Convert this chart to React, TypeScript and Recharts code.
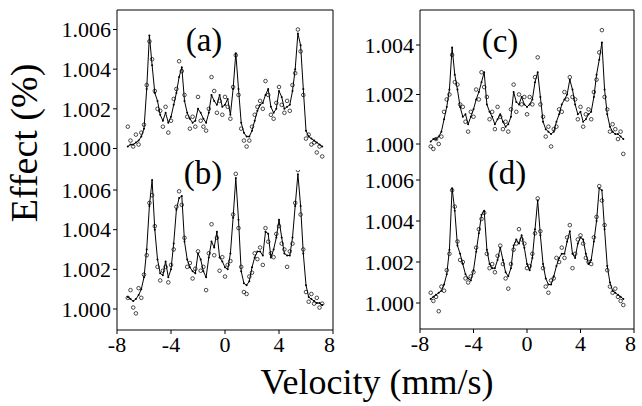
import { ComposedChart, Line, Scatter, XAxis, YAxis } from "recharts";

// channel velocities (mm/s)
const velocity = [
  -7.2, -7.0, -6.8, -6.6, -6.4, -6.2, -6.0, -5.8, -5.6, -5.4,
  -5.2, -5.0, -4.8, -4.6, -4.4, -4.2, -4.0, -3.8, -3.6, -3.4,
  -3.2, -3.0, -2.8, -2.6, -2.4, -2.2, -2.0, -1.8, -1.6, -1.4,
  -1.2, -1.0, -0.8, -0.6, -0.4, -0.2, 0.0, 0.2, 0.4, 0.6,
  0.8, 1.0, 1.2, 1.4, 1.6, 1.8, 2.0, 2.2, 2.4, 2.6,
  2.8, 3.0, 3.2, 3.4, 3.6, 3.8, 4.0, 4.2, 4.4, 4.6,
  4.8, 5.0, 5.2, 5.4, 5.6, 5.8, 6.0, 6.2, 6.4, 6.6,
  6.8, 7.0, 7.2,
];

// (a)
const fitA = [
  1.0001, 1.0002, 1.0002, 1.0003, 1.0004, 1.0006, 1.001, 1.003, 1.0057, 1.0042,
  1.0028, 1.0024, 1.0017, 1.0014, 1.0018, 1.0013, 1.0016, 1.0022, 1.0028, 1.0036,
  1.0041, 1.0024, 1.0018, 1.0015, 1.0013, 1.0014, 1.002, 1.0018, 1.0015, 1.0013,
  1.0018, 1.0027, 1.0024, 1.0022, 1.0027, 1.0021, 1.0022, 1.0025, 1.0017, 1.003,
  1.0048, 1.003, 1.0013, 1.0008, 1.0006, 1.0006, 1.0009, 1.0014, 1.0019, 1.0022,
  1.0023, 1.0027, 1.003, 1.0021, 1.0018, 1.002, 1.0029, 1.0026, 1.002, 1.0021,
  1.0022, 1.0029, 1.004, 1.0058, 1.0052, 1.003, 1.0009, 1.0006, 1.0005, 1.0004,
  1.0003, 1.0002, 1.0001,
];
const obsA = [
  1.0011, 1.0004, 1.0001, 1.0007, 1.0002, 1.0008, 1.0012, 1.0032, 1.0054, 1.0045,
  1.0029, 1.002, 1.0019, 1.0011, 1.0021, 1.0008, 1.0014, 1.0025, 1.003, 1.0044,
  1.0039, 1.0027, 1.0016, 1.001, 1.0016, 1.0011, 1.0026, 1.0014, 1.0011, 1.0009,
  1.002, 1.0036, 1.0029, 1.0018, 1.0024, 1.0017, 1.0026, 1.0021, 1.0015, 1.0031,
  1.0047, 1.0027, 1.001, 1.0004, 1.0001, 1.0004, 1.0011, 1.0017, 1.0021, 1.0024,
  1.002, 1.0034, 1.0027, 1.0017, 1.0015, 1.0023, 1.0031, 1.0022, 1.0018, 1.0024,
  1.0019, 1.0032, 1.0038, 1.006, 1.0049, 1.0027, 1.0005, 1.0007, 1.0002, 1.0003,
  0.9998, 1.0001, 0.9996,
];

// (b)
const fitB = [
  1.0006, 1.0005, 1.0004, 1.0005, 1.0007, 1.001, 1.0016, 1.003, 1.0052, 1.0065,
  1.004, 1.0025, 1.0018, 1.0017, 1.0024, 1.0016, 1.002, 1.0033, 1.005, 1.0056,
  1.0057, 1.0034, 1.0025, 1.0021, 1.0019, 1.0018, 1.0028, 1.0025, 1.0019, 1.0016,
  1.0026, 1.0034, 1.0031, 1.0039, 1.0026, 1.0024, 1.0021, 1.002, 1.0028, 1.0046,
  1.0066, 1.0045, 1.0019, 1.0013, 1.0012, 1.0014, 1.0021, 1.0026, 1.0029, 1.0029,
  1.0027, 1.0039, 1.0038, 1.0026, 1.003, 1.0036, 1.0045, 1.0036, 1.0028, 1.0027,
  1.0027, 1.0036, 1.0052, 1.0068, 1.0052, 1.0028, 1.0012, 1.0006, 1.0005, 1.0004,
  1.0003, 1.0003, 1.0002,
];
const obsB = [
  1.0006, 1.001, 1.0001, 0.9998, 1.0011, 1.0006, 1.0018, 1.0028, 1.0055, 1.0059,
  1.0043, 1.0022, 1.0015, 1.002, 1.0022, 1.0014, 1.0023, 1.0031, 1.0053, 1.0061,
  1.0054, 1.0037, 1.0022, 1.0024, 1.0016, 1.0021, 1.003, 1.002, 1.0022, 1.001,
  1.0029, 1.0044, 1.0028, 1.0037, 1.002, 1.0027, 1.0017, 1.0023, 1.0025, 1.0049,
  1.007, 1.0042, 1.0022, 1.0009, 1.0008, 1.0017, 1.0019, 1.0029, 1.0026, 1.0032,
  1.0023, 1.0042, 1.0035, 1.0029, 1.0027, 1.0039, 1.0043, 1.0034, 1.0031, 1.0022,
  1.003, 1.0034, 1.0055, 1.0072, 1.0049, 1.0031, 1.0009, 1.0004, 1.0008, 1.0003,
  1.0006, 1.0001, 1.0003,
];

// (c)
const fitC = [
  1.0001, 1.0002, 1.0002, 1.0003, 1.0005, 1.001, 1.0015, 1.0022, 1.0039, 1.0028,
  1.0022, 1.0015, 1.0011, 1.0012, 1.0008, 1.0011, 1.0014, 1.0018, 1.0021, 1.0025,
  1.0029, 1.0016, 1.0013, 1.0011, 1.0008, 1.001, 1.0012, 1.0009, 1.0007, 1.0008,
  1.0011, 1.0021, 1.0017, 1.0016, 1.0019, 1.0016, 1.0015, 1.0016, 1.0018, 1.0025,
  1.0029, 1.0019, 1.0009, 1.0006, 1.0005, 1.0004, 1.0005, 1.0009, 1.0012, 1.0016,
  1.0018, 1.002, 1.0026, 1.0022, 1.0016, 1.0012, 1.0013, 1.0009, 1.001, 1.0012,
  1.0013, 1.0019, 1.0028, 1.0034, 1.0041, 1.0022, 1.0012, 1.0007, 1.0005, 1.0004,
  1.0004, 1.0003, 1.0002,
];
const obsC = [
  0.9999, 0.9998, 1.0002, 1.0, 1.0003, 1.0013, 1.0018, 1.002, 1.0036, 1.0025,
  1.0024, 1.0016, 1.0015, 1.0009, 1.0005, 1.0013, 1.0011, 1.0022, 1.0018, 1.0029,
  1.0023, 1.0019, 1.001, 1.0013, 1.0006, 1.0015, 1.0011, 1.0006, 1.0009, 1.0005,
  1.0014, 1.0024, 1.0013, 1.002, 1.0016, 1.0019, 1.0012, 1.0019, 1.0016, 1.0027,
  1.0035, 1.0016, 1.0011, 1.0003, 1.0007, 0.9999, 1.0006, 1.0007, 1.0014, 1.0013,
  1.0021, 1.0018, 1.0027, 1.0019, 1.0018, 1.001, 1.0015, 1.0007, 1.0012, 1.0014,
  1.001, 1.0021, 1.0026, 1.0037, 1.0046, 1.0019, 1.0014, 1.0005, 1.0008, 1.0006,
  1.0002, 1.0005, 0.9996,
];

// (d)
const fitD = [
  1.0002, 1.0003, 1.0004, 1.0005, 1.0006, 1.0009, 1.0014, 1.0026, 1.0056, 1.0045,
  1.0028, 1.0024, 1.0019, 1.0014, 1.0012, 1.0011, 1.0016, 1.0025, 1.0034, 1.0043,
  1.0045, 1.0026, 1.0019, 1.0017, 1.0017, 1.0021, 1.0027, 1.0021, 1.0015, 1.0013,
  1.0017, 1.0028, 1.0031, 1.0029, 1.0033, 1.0027, 1.0019, 1.0016, 1.0022, 1.0036,
  1.005, 1.0033, 1.0019, 1.0012, 1.0009, 1.0009, 1.0013, 1.0018, 1.0022, 1.0024,
  1.0024, 1.003, 1.0035, 1.0024, 1.0022, 1.0029, 1.0032, 1.0031, 1.0024, 1.0019,
  1.0021, 1.003, 1.004, 1.0056, 1.0055, 1.0036, 1.0018, 1.001, 1.0006, 1.0005,
  1.0004, 1.0003, 1.0002,
];
const obsD = [
  1.0005, 1.0001, 1.0003, 0.9996, 1.0008, 1.0006, 1.0016, 1.0024, 1.0055, 1.0047,
  1.003, 1.0021, 1.002, 1.0012, 1.001, 1.0013, 1.0015, 1.0027, 1.0036, 1.0041,
  1.0044, 1.0024, 1.0017, 1.0019, 1.0015, 1.0023, 1.0028, 1.0019, 1.0012, 1.0007,
  1.0019, 1.0026, 1.0029, 1.0036, 1.0031, 1.0029, 1.0017, 1.0018, 1.0024, 1.0034,
  1.0051, 1.0035, 1.0017, 1.0008, 1.0005, 1.0011, 1.0012, 1.0022, 1.002, 1.0027,
  1.0022, 1.0032, 1.0038, 1.0017, 1.0024, 1.0031, 1.0033, 1.0029, 1.0022, 1.002,
  1.0019, 1.0032, 1.0042, 1.0057, 1.005, 1.0038, 1.0016, 1.0008, 1.0005, 1.0007,
  1.0003, 1.0001, 0.9999,
];

const yTicksWide = [1.0, 1.002, 1.004, 1.006];
const yTicksNarrow = [1.0, 1.002, 1.004];
const xTicks = [-8, -4, 0, 4, 8];
const xTicksTop = [-8, -6, -4, -2, 0, 2, 4, 6, 8];

const FONT = "Liberation Serif";
const tickStyle = { fill: "#000", fontSize: 22, fontFamily: FONT, style: { fontFamily: FONT } };

interface IPanel {
  fit: number[];
  obs: number[];
  yTicks: number[];
  domain: [number, number];
  left: number;
  top: number;
  width: number;
  height: number;
  bottom: boolean;
}

const OpenCircle = (p: any) => (
  <circle cx={p.cx} cy={p.cy} r={1.8} fill="none" stroke="#000" strokeWidth={0.7} />
);

const Panel = (props: IPanel) => {
  const data = velocity.map((v, i) => ({ v, fit: props.fit[i], obs: props.obs[i] }));
  return (
    <div style={{ position: "absolute", left: props.left, top: props.top, fontFamily: FONT }}>
      <ComposedChart
        width={props.width}
        height={props.height}
        data={data}
        style={{ fontFamily: FONT }}
        margin={{ top: props.bottom ? 0 : 10, right: 2, bottom: 0, left: 0 }}
      >
        {props.bottom ? (
          <XAxis
            xAxisId="x"
            dataKey="v"
            type="number"
            domain={[-8, 8]}
            ticks={xTicks}
            height={36}
            stroke="#000"
            tickSize={4}
            tickMargin={2}
            tick={tickStyle}
          />
        ) : (
          <XAxis
            xAxisId="x"
            dataKey="v"
            type="number"
            orientation="top"
            domain={[-8, 8]}
            ticks={xTicksTop}
            height={1}
            mirror
            stroke="#000"
            tickSize={3}
            tick={false}
          />
        )}
        <YAxis
          yAxisId="L"
          type="number"
          domain={props.domain}
          ticks={props.yTicks}
          width={70}
          stroke="#000"
          tickSize={4}
          tickMargin={2}
          tick={tickStyle}
          tickFormatter={(t: number) => t.toFixed(3)}
        />
        <YAxis
          yAxisId="R"
          orientation="right"
          type="number"
          domain={props.domain}
          ticks={props.yTicks}
          width={1}
          mirror
          stroke="#000"
          tickSize={3}
          tick={false}
        />
        <Line
          xAxisId="x"
          yAxisId="L"
          type="linear"
          dataKey="fit"
          stroke="#000"
          strokeWidth={1}
          dot={{ r: 1, fill: "#000", stroke: "none" }}
          isAnimationActive={false}
        />
        <Scatter
          xAxisId="x"
          yAxisId="R"
          dataKey="obs"
          shape={OpenCircle}
          isAnimationActive={false}
        />
      </ComposedChart>
    </div>
  );
};

export default function App() {
  return (
    <div style={{ position: "absolute", left: 0, top: 0, width: 642, height: 406, background: "#fff" }}>
      <Panel fit={fitA} obs={obsA} yTicks={yTicksWide} domain={[0.998916, 1.006983]}
        left={47} top={0} width={288} height={170} bottom={false} />
      <Panel fit={fitB} obs={obsB} yTicks={yTicksWide} domain={[0.998941, 1.007009]}
        left={47} top={170} width={288} height={196} bottom={true} />
      <Panel fit={fitC} obs={obsC} yTicks={yTicksNarrow} domain={[0.999273, 1.005414]}
        left={350} top={0} width={286} height={162} bottom={false} />
      <Panel fit={fitD} obs={obsD} yTicks={yTicksWide} domain={[0.998732, 1.006878]}
        left={350} top={162} width={286} height={203} bottom={true} />
      <svg width={642} height={406} style={{ position: "absolute", left: 0, top: 0, pointerEvents: "none", fontFamily: FONT }}>
        <g fill="#000" textAnchor="middle">
          <text fontSize={38} transform="translate(37,143) rotate(-90)">Effect (%)</text>
          <text fontSize={36} x={377} y={394}>Velocity (mm/s)</text>
          <text fontSize={33} x={204} y={51}>(a)</text>
          <text fontSize={33} x={203} y={184}>(b)</text>
          <text fontSize={33} x={500} y={52}>(c)</text>
          <text fontSize={33} x={507} y={184}>(d)</text>
        </g>
      </svg>
    </div>
  );
}
